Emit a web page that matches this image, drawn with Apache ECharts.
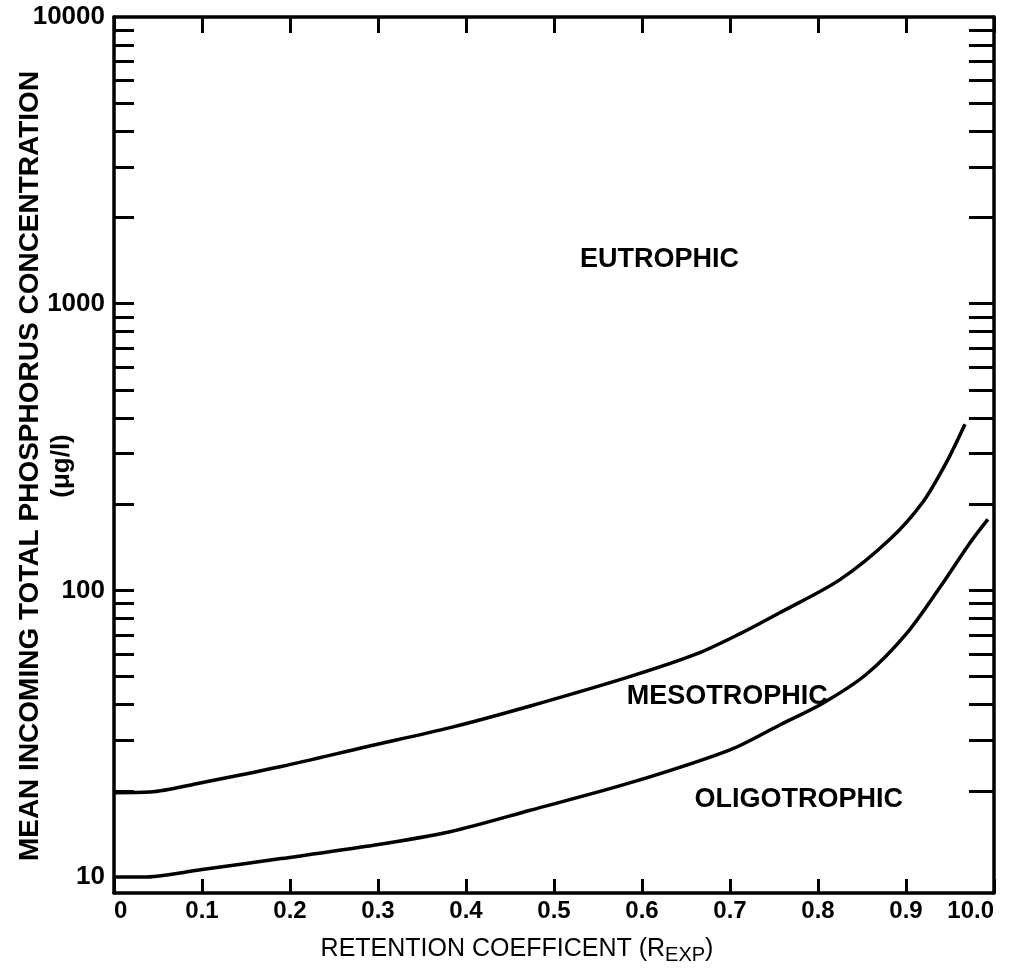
<!DOCTYPE html>
<html>
<head>
<meta charset="utf-8">
<script src="https://cdn.jsdelivr.net/npm/echarts@6/dist/echarts.min.js"></script>
<style>
  html, body { margin: 0; padding: 0; background: #fff; }
  #chart { width: 1019px; height: 972px; }
</style>
</head>
<body>
<div id="chart"></div>
<script>
// Eutrophic / mesotrophic boundary: retention coefficient vs. critical incoming P (µg/l)
const upperR = [0, 0.041, 0.098, 0.19, 0.287, 0.382, 0.473, 0.586, 0.662, 0.711, 0.757, 0.825, 0.882, 0.919, 0.946, 0.967];
const upperP = [19.7, 19.8, 21.3, 24.3, 28.5, 33.2, 39.5, 50, 60, 70.5, 83.7, 109, 151, 203, 280, 380];

// Mesotrophic / oligotrophic boundary
const lowerR = [0, 0.033, 0.098, 0.19, 0.287, 0.382, 0.473, 0.586, 0.7, 0.757, 0.806, 0.855, 0.901, 0.939, 0.973, 0.993];
const lowerP = [10, 10, 10.6, 11.6, 12.8, 14.4, 17.1, 21.3, 27.8, 34, 40.5, 51, 71, 103, 147, 177];

// Trophic-state region names and the point each one sits at
const regionNames = ['EUTROPHIC', 'MESOTROPHIC', 'OLIGOTROPHIC'];
const regionR = [0.62, 0.697, 0.778];
const regionP = [1420, 42.5, 18.6];

// Axis ticks and labels
const xTickLabels = ['0', '0.1', '0.2', '0.3', '0.4', '0.5', '0.6', '0.7', '0.8', '0.9', '10.0'];
const yLabelValues = [10, 100, 1000, 10000];
const yTickValues = [
  20, 30, 40, 50, 60, 70, 80, 90,
  100, 200, 300, 400, 500, 600, 700, 800, 900,
  1000, 2000, 3000, 4000, 5000, 6000, 7000, 8000, 9000
];

const FONT = 'Liberation Sans';
const INK = '#000';

const pairs = (xs, ys) => xs.map((x, i) => [x, ys[i]]);

const axisLine = { show: true, onZero: false, lineStyle: { color: INK, width: 3.5 } };

const chart = echarts.init(document.getElementById('chart'), null, { renderer: 'canvas' });

chart.setOption({
  animation: false,
  backgroundColor: '#fff',
  grid: { left: 114, right: 25, top: 17, bottom: 79, containLabel: false, outerBoundsMode: 'none' },
  xAxis: [
    {
      type: 'value', position: 'bottom', min: 0, max: 1, interval: 0.1,
      axisLine: axisLine,
      axisTick: { show: true, inside: true, length: 14, lineStyle: { color: INK, width: 3 } },
      splitLine: { show: false },
      axisLabel: {
        color: INK, fontFamily: FONT, fontWeight: 'bold', fontSize: 24, margin: 6,
        alignMinLabel: 'left', alignMaxLabel: 'right',
        formatter: v => xTickLabels[Math.round(v * 10)]
      },
      name: '{a|RETENTION COEFFICENT (R}{s|EXP}{a|)}',
      nameLocation: 'middle', nameGap: 40, nameMoveOverlap: false,
      nameTextStyle: {
        padding: [0, 74, 0, 0],
        rich: {
          a: { fontFamily: FONT, fontSize: 25, color: INK, lineHeight: 32, verticalAlign: 'middle' },
          s: { fontFamily: FONT, fontSize: 20, color: INK, lineHeight: 32, verticalAlign: 'bottom' }
        }
      }
    },
    {
      type: 'value', position: 'top', min: 0, max: 1, interval: 0.1,
      axisLine: axisLine,
      axisTick: { show: true, inside: true, length: 16, lineStyle: { color: INK, width: 3 } },
      splitLine: { show: false },
      axisLabel: { show: false }
    }
  ],
  yAxis: [
    {
      type: 'log', logBase: 10, position: 'left', min: 8.8, max: 10000,
      axisLine: axisLine,
      axisTick: { show: true, inside: true, length: 20, customValues: yTickValues, lineStyle: { color: INK, width: 3 } },
      minorTick: { show: false },
      splitLine: { show: false },
      axisLabel: {
        customValues: yLabelValues,
        color: INK, fontFamily: FONT, fontWeight: 'bold', fontSize: 26, margin: 9,
        formatter: v => String(v)
      },
      name: '{t|MEAN INCOMING TOTAL PHOSPHORUS CONCENTRATION}\n{u|(μg/l)}',
      nameLocation: 'middle', nameRotate: 90, nameGap: 36, nameMoveOverlap: false,
      nameTextStyle: {
        padding: [0, 22, 0, 0],
        align: 'center',
        rich: {
          t: { fontFamily: FONT, fontWeight: 'bold', fontSize: 28, color: INK, lineHeight: 32 },
          u: { fontFamily: FONT, fontWeight: 'bold', fontSize: 26, color: INK, lineHeight: 32 }
        }
      }
    },
    {
      type: 'log', logBase: 10, position: 'right', min: 8.8, max: 10000,
      axisLine: axisLine,
      axisTick: { show: true, inside: true, length: 25, customValues: yTickValues, lineStyle: { color: INK, width: 3 } },
      minorTick: { show: false },
      splitLine: { show: false },
      axisLabel: { show: false }
    }
  ],
  series: [
    {
      name: 'Eutrophic boundary', type: 'line', xAxisIndex: 0, yAxisIndex: 0,
      data: pairs(upperR, upperP), smooth: 0.3, symbol: 'none',
      lineStyle: { color: INK, width: 3.5 }
    },
    {
      name: 'Oligotrophic boundary', type: 'line', xAxisIndex: 0, yAxisIndex: 0,
      data: pairs(lowerR, lowerP), smooth: 0.3, symbol: 'none',
      lineStyle: { color: INK, width: 3.5 }
    },
    {
      name: 'Regions', type: 'scatter', xAxisIndex: 0, yAxisIndex: 0,
      symbolSize: 0,
      itemStyle: { opacity: 1 },
      data: regionNames.map((n, i) => ({ name: n, value: [regionR[i], regionP[i]] })),
      label: {
        show: true, position: 'inside', formatter: p => p.name, opacity: 1,
        color: INK, fontFamily: FONT, fontWeight: 'bold', fontSize: 27
      },
      silent: true
    }
  ]
});
</script>
</body>
</html>
